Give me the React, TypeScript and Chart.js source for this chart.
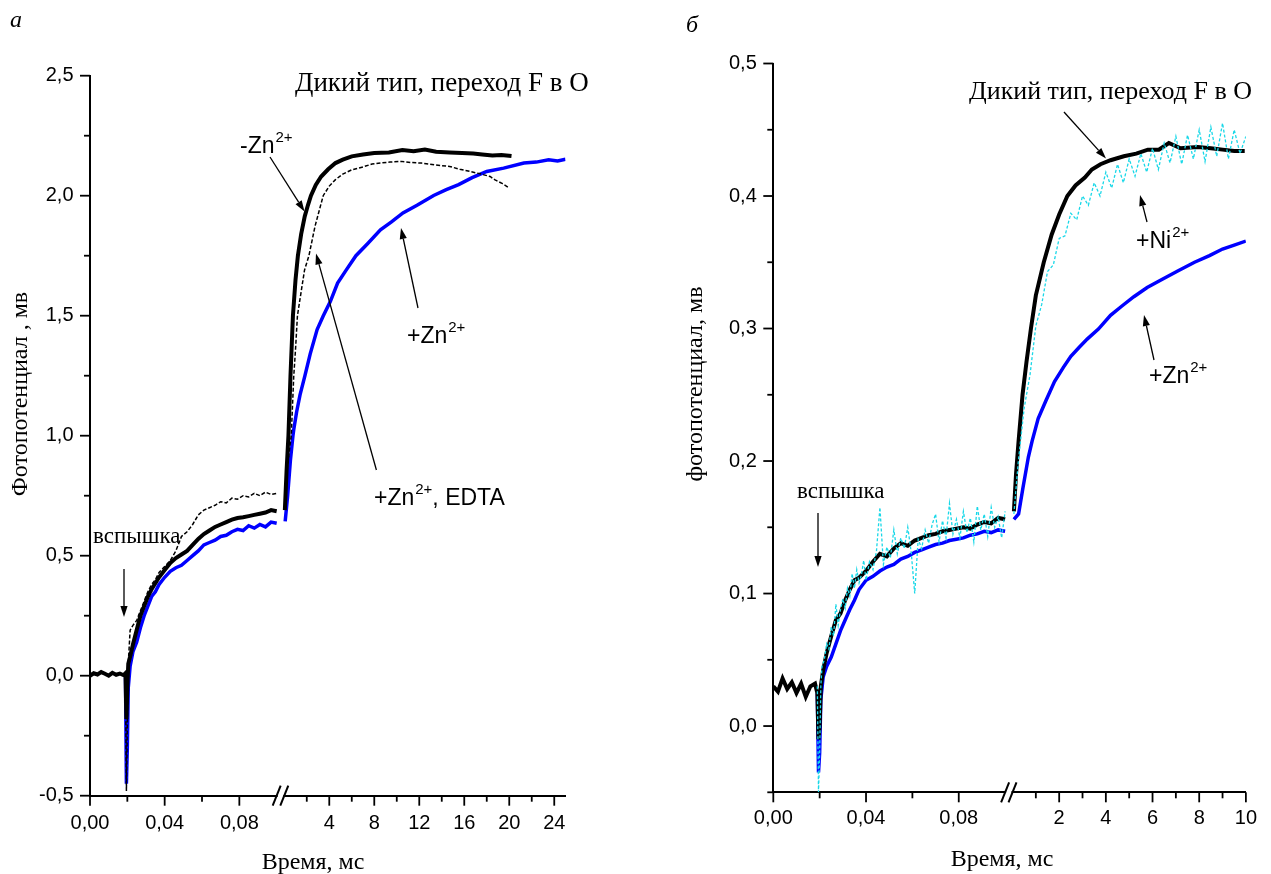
import React, { useEffect, useRef } from "react";
import { Chart, registerables } from "chart.js";

Chart.register(...registerables);

const SANS = '"Liberation Sans", Arial, sans-serif';
const SERIF = '"Liberation Serif", "Times New Roman", serif';

// ---------------- DATA ----------------
// early time window (ms), shared by most early traces
const timeEarly = [0, 0.002, 0.004, 0.006, 0.008, 0.01, 0.012, 0.014, 0.016, 0.018, 0.019, 0.0195, 0.02, 0.0205, 0.0215, 0.023, 0.025, 0.027, 0.029, 0.031, 0.033, 0.035, 0.037, 0.04, 0.043, 0.046, 0.049, 0.052, 0.055, 0.058, 0.061, 0.064, 0.067, 0.07, 0.073, 0.076, 0.079, 0.082, 0.085, 0.088, 0.091, 0.094, 0.097, 0.1];

// Panel а  (mV)
const aBlackEarly = [0.0, 0.01, 0.005, 0.015, 0.008, 0.0, 0.012, 0.004, 0.009, 0.002, 0.01, -0.18, -0.05, 0.05, 0.08, 0.13, 0.19, 0.25, 0.29, 0.33, 0.36, 0.385, 0.41, 0.44, 0.47, 0.49, 0.505, 0.52, 0.545, 0.57, 0.59, 0.605, 0.62, 0.63, 0.64, 0.65, 0.657, 0.66, 0.665, 0.67, 0.675, 0.68, 0.69, 0.685];
const aEdtaEarly = [null, null, null, null, null, null, null, null, null, null, 0.01, -0.48, -0.2, 0.05, 0.19, 0.21, 0.23, 0.27, 0.31, 0.35, 0.38, 0.4, 0.43, 0.455, 0.48, 0.52, 0.58, 0.6, 0.63, 0.67, 0.69, 0.7, 0.71, 0.725, 0.72, 0.74, 0.735, 0.75, 0.745, 0.76, 0.75, 0.765, 0.755, 0.76];
const aZnEarly = [null, null, null, null, null, null, null, null, null, null, 0.01, -0.45, -0.3, -0.05, 0.04, 0.1, 0.14, 0.2, 0.25, 0.29, 0.33, 0.35, 0.38, 0.41, 0.435, 0.45, 0.46, 0.48, 0.5, 0.52, 0.545, 0.555, 0.565, 0.58, 0.585, 0.6, 0.61, 0.605, 0.625, 0.615, 0.63, 0.62, 0.64, 0.635];

const aBlackLateTime = [0.05, 0.2, 0.37, 0.55, 0.77, 1.0, 1.21, 1.5, 1.82, 2.1, 2.37, 2.8, 3.28, 3.9, 4.55, 5.2, 6.0, 7.0, 8.0, 9.3, 10.5, 11.5, 12.5, 13.5, 14.7, 15.8, 16.8, 17.6, 18.5, 19.3, 20.2];
const aBlackLate = [0.69, 0.85, 1.0, 1.247, 1.5, 1.65, 1.75, 1.84, 1.914, 1.96, 2.0, 2.045, 2.08, 2.11, 2.136, 2.15, 2.164, 2.172, 2.178, 2.18, 2.19, 2.185, 2.192, 2.183, 2.18, 2.178, 2.176, 2.172, 2.168, 2.17, 2.165];
const aEdtaLateTime = [0.05, 0.3, 0.62, 0.84, 1.0, 1.17, 1.5, 1.8, 2.19, 2.73, 3.46, 4.0, 4.55, 5.2, 6.0, 7.0, 7.8, 8.55, 9.4, 10.4, 11.3, 12.2, 13.4, 14.7, 15.6, 16.55, 17.5, 18.3, 18.7, 19.4, 20.0];
const aEdtaLate = [0.76, 0.88, 1.0, 1.247, 1.36, 1.5, 1.6, 1.69, 1.75, 1.872, 2.0, 2.04, 2.067, 2.09, 2.108, 2.12, 2.132, 2.136, 2.14, 2.143, 2.138, 2.136, 2.128, 2.122, 2.11, 2.101, 2.09, 2.08, 2.067, 2.05, 2.032];
const aZnLateTime = [0.08, 0.3, 0.55, 0.77, 0.84, 1.1, 1.4, 1.82, 2.3, 2.92, 3.46, 4.1, 4.74, 5.5, 6.37, 7.4, 8.55, 9.5, 10.55, 11.8, 13.28, 14.4, 15.5, 16.7, 18.0, 19.5, 21.3, 22.4, 23.5, 24.3, 25.0];
const aZnLate = [0.643, 0.75, 0.9, 1.0, 1.025, 1.1, 1.17, 1.247, 1.34, 1.442, 1.499, 1.56, 1.636, 1.69, 1.75, 1.8, 1.858, 1.89, 1.928, 1.96, 2.001, 2.025, 2.046, 2.075, 2.101, 2.115, 2.136, 2.14, 2.15, 2.145, 2.152];

// Panel б  (mV)
const bBlackEarly = [0.03, 0.026, 0.036, 0.028, 0.033, 0.025, 0.032, 0.022, 0.03, 0.032, 0.025, -0.01, 0.0, 0.03, 0.042, 0.055, 0.068, 0.08, 0.085, 0.095, 0.103, 0.11, 0.112, 0.117, 0.124, 0.13, 0.128, 0.134, 0.138, 0.136, 0.14, 0.142, 0.144, 0.145, 0.147, 0.148, 0.149, 0.15, 0.149, 0.152, 0.154, 0.153, 0.157, 0.156];
const bZnEarly = [null, null, null, null, null, null, null, null, null, null, 0.025, -0.035, -0.02, 0.02, 0.037, 0.045, 0.052, 0.062, 0.072, 0.08, 0.088, 0.095, 0.103, 0.11, 0.113, 0.117, 0.12, 0.122, 0.126, 0.128, 0.131, 0.133, 0.135, 0.137, 0.138, 0.14, 0.141, 0.142, 0.144, 0.145, 0.147, 0.146, 0.148, 0.147];
const bNiEarlyTime = [0.019, 0.0195, 0.02, 0.0205, 0.021, 0.022, 0.023, 0.024, 0.025, 0.026, 0.027, 0.028, 0.029, 0.03, 0.031, 0.032, 0.033, 0.034, 0.035, 0.036, 0.037, 0.038, 0.039, 0.04, 0.0415, 0.043, 0.0445, 0.046, 0.0475, 0.049, 0.0505, 0.052, 0.0535, 0.055, 0.0565, 0.058, 0.0595, 0.061, 0.0625, 0.064, 0.0655, 0.067, 0.0685, 0.07, 0.0715, 0.073, 0.0745, 0.076, 0.0775, 0.079, 0.0805, 0.082, 0.0835, 0.085, 0.0865, 0.088, 0.0895, 0.091, 0.0925, 0.094, 0.0955, 0.097, 0.0985, 0.1];
const bNiEarly = [0.03, -0.05, -0.02, 0.03, 0.045, 0.05, 0.062, 0.058, 0.075, 0.068, 0.092, 0.076, 0.088, 0.096, 0.089, 0.104, 0.098, 0.115, 0.104, 0.118, 0.108, 0.114, 0.125, 0.11, 0.124, 0.118, 0.132, 0.165, 0.122, 0.135, 0.127, 0.148, 0.13, 0.142, 0.134, 0.15, 0.131, 0.1, 0.141, 0.134, 0.148, 0.138, 0.152, 0.16, 0.139, 0.155, 0.142, 0.168, 0.145, 0.156, 0.142, 0.162, 0.146, 0.157, 0.139, 0.166, 0.148, 0.16, 0.143, 0.165, 0.15, 0.158, 0.142, 0.162];

const bBlackLateTime = [0.06, 0.15, 0.26, 0.43, 0.6, 0.79, 1.0, 1.34, 1.68, 2.0, 2.35, 2.7, 3.1, 3.4, 3.77, 4.2, 4.77, 5.3, 5.8, 6.27, 6.7, 7.2, 7.94, 8.5, 9.0, 9.5, 9.95];
const bBlackLate = [0.162, 0.19, 0.215, 0.25, 0.275, 0.3, 0.325, 0.35, 0.371, 0.386, 0.4, 0.408, 0.414, 0.42, 0.424, 0.427, 0.43, 0.432, 0.435, 0.435, 0.44, 0.436, 0.437, 0.436, 0.435, 0.434, 0.434];
const bNiLateTime = [0.06, 0.25, 0.5, 0.75, 1.0, 1.25, 1.5, 1.75, 2.0, 2.25, 2.5, 2.75, 3.0, 3.25, 3.5, 3.75, 4.0, 4.25, 4.5, 4.75, 5.0, 5.25, 5.5, 5.75, 6.0, 6.25, 6.5, 6.75, 7.0, 7.25, 7.5, 7.75, 8.0, 8.25, 8.5, 8.75, 9.0, 9.25, 9.5, 9.75, 10.0];
const bNiLate = [0.16, 0.2, 0.24, 0.265, 0.302, 0.318, 0.343, 0.348, 0.368, 0.37, 0.387, 0.382, 0.4, 0.393, 0.41, 0.4, 0.418, 0.406, 0.424, 0.41, 0.428, 0.415, 0.432, 0.418, 0.436, 0.42, 0.44, 0.425, 0.445, 0.424, 0.446, 0.428, 0.45, 0.426, 0.452, 0.43, 0.455, 0.428, 0.45, 0.432, 0.445];
const bZnLateTime = [0.06, 0.26, 0.45, 0.68, 0.84, 1.1, 1.43, 1.8, 2.18, 2.5, 2.85, 3.2, 3.68, 4.2, 4.69, 5.2, 5.77, 6.4, 7.1, 7.8, 8.44, 9.0, 9.5, 10.0];
const bZnLate = [0.156, 0.16, 0.18, 0.203, 0.215, 0.232, 0.2455, 0.26, 0.2707, 0.279, 0.2857, 0.292, 0.2996, 0.31, 0.317, 0.324, 0.331, 0.337, 0.3436, 0.35, 0.355, 0.36, 0.363, 0.366];

// Tick values and labels
const xEarlyMajor = [0, 0.04, 0.08];
const xEarlyLabels = ["0,00", "0,04", "0,08"];
const xEarlyMinor = [0.02, 0.06];
const aXLateMajor = [4, 8, 12, 16, 20, 24];
const aXLateLabels = ["4", "8", "12", "16", "20", "24"];
const aXLateMinor = [2, 6, 10, 14, 18, 22];
const bXLateMajor = [2, 4, 6, 8, 10];
const bXLateLabels = ["2", "4", "6", "8", "10"];
const bXLateMinor = [1, 3, 5, 7, 9];
const aYMajor = [-0.5, 0, 0.5, 1, 1.5, 2, 2.5];
const aYLabels = ["-0,5", "0,0", "0,5", "1,0", "1,5", "2,0", "2,5"];
const aYMinor = [-0.25, 0.25, 0.75, 1.25, 1.75, 2.25];
const bYMajor = [0, 0.1, 0.2, 0.3, 0.4, 0.5];
const bYLabels = ["0,0", "0,1", "0,2", "0,3", "0,4", "0,5"];
const bYMinor = [-0.05, 0.05, 0.15, 0.25, 0.35, 0.45];

// --------------- helpers ---------------
type Seg = { L: number; G: number; K: number; Rmax: number };
const toU = (seg: Seg, t: number, late: boolean) => (late ? seg.L + seg.G + t * seg.K : (t / 0.1) * seg.L);

function trace(seg: Seg, tEarly: number[], yEarly: (number | null)[], tLate: number[], yLate: number[]) {
  const pts: { x: number; y: number | null }[] = [];
  tEarly.forEach((t, i) => pts.push({ x: toU(seg, t, false), y: yEarly[i] }));
  pts.push({ x: seg.L + seg.G / 2, y: null });
  tLate.forEach((t, i) => pts.push({ x: toU(seg, t, true), y: yLate[i] }));
  return pts;
}

function arrow(ctx: CanvasRenderingContext2D, x1: number, y1: number, x2: number, y2: number) {
  const head = 11, half = 3.6;
  const a = Math.atan2(y2 - y1, x2 - x1);
  const bx = x2 - head * Math.cos(a), by = y2 - head * Math.sin(a);
  ctx.strokeStyle = "#000";
  ctx.fillStyle = "#000";
  ctx.lineWidth = 1.3;
  ctx.beginPath();
  ctx.moveTo(x1, y1);
  ctx.lineTo(bx, by);
  ctx.stroke();
  ctx.beginPath();
  ctx.moveTo(x2, y2);
  ctx.lineTo(bx - half * Math.sin(a), by + half * Math.cos(a));
  ctx.lineTo(bx + half * Math.sin(a), by - half * Math.cos(a));
  ctx.closePath();
  ctx.fill();
}

function ion(ctx: CanvasRenderingContext2D, x: number, base: number, pre: string, sup: string, post = "") {
  const size = 23;
  ctx.fillStyle = "#000";
  ctx.textAlign = "left";
  ctx.textBaseline = "alphabetic";
  ctx.font = `${size}px ${SANS}`;
  ctx.fillText(pre, x, base);
  let w = ctx.measureText(pre).width + 1;
  ctx.font = `15px ${SANS}`;
  ctx.fillText(sup, x + w, base - 11);
  w += ctx.measureText(sup).width;
  if (post) {
    ctx.font = `${size}px ${SANS}`;
    ctx.fillText(post, x + w, base);
  }
}

function text(ctx: CanvasRenderingContext2D, s: string, x: number, y: number, font: string, align: CanvasTextAlign = "left", baseline: CanvasTextBaseline = "alphabetic") {
  ctx.fillStyle = "#000";
  ctx.font = font;
  ctx.textAlign = align;
  ctx.textBaseline = baseline;
  ctx.fillText(s, x, y);
}

type Spec = {
  id: string;
  left: number;
  width: number;
  pad: { left: number; top: number; right: number; bottom: number };
  yWidth: number;
  xHeight: number;
  seg: Seg;
  yMin: number;
  yMax: number;
  yMajor: number[];
  yLabels: string[];
  yMinor: number[];
  xLateMajor: number[];
  xLateLabels: string[];
  xLateMinor: number[];
  yPad: number;
  xPad: number;
  datasets: any[];
  annotate: (ctx: CanvasRenderingContext2D, ox: number) => void;
};

function buildChart(canvas: HTMLCanvasElement, s: Spec) {
  const xTicks = [...xEarlyMajor.map((t) => toU(s.seg, t, false)), ...s.xLateMajor.map((t) => toU(s.seg, t, true))];
  const xLabels = [...xEarlyLabels, ...s.xLateLabels];
  const overlay = {
    id: "overlay_" + s.id,
    afterDraw(chart: any) {
      const ctx: CanvasRenderingContext2D = chart.ctx;
      const xs = chart.scales.x, ys = chart.scales.y;
      const { left, bottom } = chart.chartArea;
      ctx.save();
      ctx.strokeStyle = "#000";
      ctx.lineWidth = 1.8;
      const vt = (px: number, len: number) => {
        ctx.beginPath();
        ctx.moveTo(px, bottom);
        ctx.lineTo(px, bottom + len);
        ctx.stroke();
      };
      const ht = (py: number, len: number) => {
        ctx.beginPath();
        ctx.moveTo(left, py);
        ctx.lineTo(left - len, py);
        ctx.stroke();
      };
      xEarlyMajor.forEach((t) => vt(xs.getPixelForValue(toU(s.seg, t, false)), 10));
      xEarlyMinor.forEach((t) => vt(xs.getPixelForValue(toU(s.seg, t, false)), 6));
      s.xLateMajor.forEach((t) => vt(xs.getPixelForValue(toU(s.seg, t, true)), 10));
      s.xLateMinor.forEach((t) => vt(xs.getPixelForValue(toU(s.seg, t, true)), 6));
      s.yMajor.forEach((v) => ht(ys.getPixelForValue(v), 10));
      s.yMinor.forEach((v) => ht(ys.getPixelForValue(v), 6));
      // axis break
      const p1 = xs.getPixelForValue(s.seg.L);
      const p2 = xs.getPixelForValue(s.seg.L + s.seg.G);
      ctx.fillStyle = "#fff";
      ctx.fillRect(p1 + 1, bottom - 3, p2 - p1 - 2, 6);
      ctx.lineWidth = 2;
      [p1, p2].forEach((p) => {
        ctx.beginPath();
        ctx.moveTo(p - 4, bottom + 10);
        ctx.lineTo(p + 4, bottom - 10);
        ctx.stroke();
      });
      s.annotate(ctx, s.left);
      ctx.restore();
    },
  };

  return new Chart(canvas, {
    type: "line",
    data: { datasets: s.datasets },
    options: {
      animation: false,
      responsive: false,
      events: [],
      layout: { padding: s.pad },
      plugins: { legend: { display: false }, tooltip: { enabled: false }, title: { display: false } },
      elements: { point: { radius: 0 }, line: { tension: 0 } },
      scales: {
        x: {
          type: "linear",
          min: 0,
          max: s.seg.L + s.seg.G + s.seg.Rmax * s.seg.K,
          grid: { display: false, drawTicks: false },
          border: { display: true, color: "#000", width: 2 },
          afterBuildTicks: (sc: any) => {
            sc.ticks = xTicks.map((v) => ({ value: v }));
          },
          afterFit: (sc: any) => {
            sc.height = s.xHeight;
          },
          ticks: {
            autoSkip: false,
            maxRotation: 0,
            minRotation: 0,
            padding: s.xPad,
            color: "#000",
            font: { family: SANS, size: 20 },
            callback: (_v: any, i: number) => xLabels[i],
          },
        },
        y: {
          type: "linear",
          min: s.yMin,
          max: s.yMax,
          grid: { display: false, drawTicks: false },
          border: { display: true, color: "#000", width: 2 },
          afterBuildTicks: (sc: any) => {
            sc.ticks = s.yMajor.map((v) => ({ value: v }));
          },
          afterFit: (sc: any) => {
            sc.width = s.yWidth;
          },
          ticks: {
            autoSkip: false,
            padding: s.yPad,
            color: "#000",
            font: { family: SANS, size: 20 },
            callback: (_v: any, i: number) => s.yLabels[i],
          },
        },
      },
    },
    plugins: [overlay],
  } as any);
}

// --------------- panel specs ---------------
const segA: Seg = { L: 186.7, G: 7.6, K: 11.25, Rmax: 25 };
const segB: Seg = { L: 238.4, G: 7.6, K: 24.0, Rmax: 10 };

const specA: Spec = {
  id: "a",
  left: 0,
  width: 640,
  pad: { left: 30, top: 75.7, right: 74.5, bottom: 0 },
  yWidth: 60,
  xHeight: 78.3,
  seg: segA,
  yMin: -0.5,
  yMax: 2.5,
  yMajor: aYMajor,
  yLabels: aYLabels,
  yMinor: aYMinor,
  xLateMajor: aXLateMajor,
  xLateLabels: aXLateLabels,
  xLateMinor: aXLateMinor,
  yPad: 16.5,
  xPad: 15.6,
  datasets: [
    { label: "+Zn2+, EDTA", data: trace(segA, timeEarly, aEdtaEarly, aEdtaLateTime, aEdtaLate), borderColor: "#000", borderWidth: 1.5, borderDash: [4, 2], spanGaps: false },
    { label: "-Zn2+", data: trace(segA, timeEarly, aBlackEarly, aBlackLateTime, aBlackLate), borderColor: "#000", borderWidth: 4, spanGaps: false },
    { label: "+Zn2+", data: trace(segA, timeEarly, aZnEarly, aZnLateTime, aZnLate), borderColor: "#0000ff", borderWidth: 3.5, spanGaps: false },
  ],
  annotate: (ctx, ox) => {
    const X = (x: number) => x - ox;
    text(ctx, "а", X(16), 27, `italic 24px ${SERIF}`, "center");
    text(ctx, "Дикий тип, переход F в O", X(295), 91, `27px ${SERIF}`);
    ion(ctx, X(240), 153, "-Zn", "2+");
    arrow(ctx, X(270), 157, X(304.5), 211.5);
    ion(ctx, X(407), 343, "+Zn", "2+");
    arrow(ctx, X(418), 308, X(401), 228);
    ion(ctx, X(374), 505, "+Zn", "2+", ", EDTA");
    arrow(ctx, X(376.4), 470, X(316), 253.5);
    text(ctx, "вспышка", X(93), 543, `23px ${SERIF}`);
    arrow(ctx, X(124), 569, X(124), 617);
    text(ctx, "Время, мс", X(313), 863, `24px ${SERIF}`, "center", "middle");
    ctx.save();
    ctx.translate(X(20.5), 394);
    ctx.rotate(-Math.PI / 2);
    text(ctx, "Фотопотенциал , мв", 0, 0, `24px ${SERIF}`, "center", "middle");
    ctx.restore();
  },
};

const specB: Spec = {
  id: "b",
  left: 640,
  width: 631,
  pad: { left: 73.3, top: 63.5, right: 11.7, bottom: 0 },
  yWidth: 60,
  xHeight: 81.7,
  seg: segB,
  yMin: -0.05,
  yMax: 0.5,
  yMajor: bYMajor,
  yLabels: bYLabels,
  yMinor: bYMinor,
  xLateMajor: bXLateMajor,
  xLateLabels: bXLateLabels,
  xLateMinor: bXLateMinor,
  yPad: 16.5,
  xPad: 14,
  datasets: [
    { label: "+Ni2+", data: trace(segB, bNiEarlyTime, bNiEarly, bNiLateTime, bNiLate), borderColor: "#19d8e8", borderWidth: 1.3, borderDash: [3, 2], spanGaps: false },
    { label: "Дикий тип", data: trace(segB, timeEarly, bBlackEarly, bBlackLateTime, bBlackLate), borderColor: "#000", borderWidth: 4, spanGaps: false },
    { label: "+Zn2+", data: trace(segB, timeEarly, bZnEarly, bZnLateTime, bZnLate), borderColor: "#0000ff", borderWidth: 3.5, spanGaps: false },
  ],
  annotate: (ctx, ox) => {
    const X = (x: number) => x - ox;
    text(ctx, "б", X(692), 32, `italic 24px ${SERIF}`, "center");
    text(ctx, "Дикий тип, переход F в O", X(969), 99, `26px ${SERIF}`);
    arrow(ctx, X(1064), 112, X(1106), 158.5);
    ion(ctx, X(1136), 248, "+Ni", "2+");
    arrow(ctx, X(1147), 222, X(1140), 195);
    ion(ctx, X(1149), 383, "+Zn", "2+");
    arrow(ctx, X(1154), 360, X(1144), 315);
    text(ctx, "вспышка", X(797), 498, `23px ${SERIF}`);
    arrow(ctx, X(818), 513, X(818), 567);
    text(ctx, "Время, мс", X(1002), 860, `24px ${SERIF}`, "center", "middle");
    ctx.save();
    ctx.translate(X(696), 384);
    ctx.rotate(-Math.PI / 2);
    text(ctx, "фотопотенциал, мв", 0, 0, `24px ${SERIF}`, "center", "middle");
    ctx.restore();
  },
};

function Panel({ spec }: { spec: Spec }) {
  const ref = useRef<HTMLCanvasElement | null>(null);
  useEffect(() => {
    if (!ref.current) return;
    const chart = buildChart(ref.current, spec);
    return () => chart.destroy();
  }, [spec]);
  return (
    <canvas
      ref={ref}
      width={spec.width}
      height={874}
      style={{ position: "absolute", left: spec.left, top: 0, width: spec.width, height: 874 }}
    />
  );
}

export default function App() {
  return (
    <div style={{ position: "fixed", left: 0, top: 0, width: 1271, height: 874, background: "#fff", overflow: "hidden" }}>
      <Panel spec={specA} />
      <Panel spec={specB} />
    </div>
  );
}
